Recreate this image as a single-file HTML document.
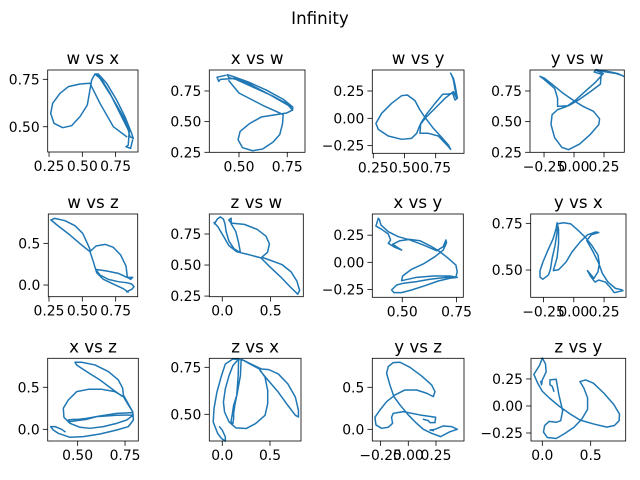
<!DOCTYPE html>
<html><head><meta charset="utf-8"><title>Infinity</title>
<style>
html,body{margin:0;padding:0;background:#fff;}
svg{display:block;font-family:"DejaVu Sans","Liberation Sans",sans-serif;}
</style></head>
<body>
<svg id="fig" width="640" height="480" viewBox="0 0 640 480" xmlns="http://www.w3.org/2000/svg">
<rect width="640" height="480" fill="#fff"/>
<text x="320" y="24" text-anchor="middle" font-size="16.7" fill="#000">Infinity</text>
</svg>
<script>
// pair (w,x)
const WX_w=[.8325,.7325,.6325,.5575,.4825,.395,.3325,.2775,.2625,.2875,.3525,.42,.4825,.5375,.57,.595,.62,.6825,.7575,.82,.87,.8825,.8575,.845,.7825,.7075,.6325,.6025,.6325,.72,.8075,.8525,.845,.8275,.8625,.8775];
const WX_x=[.4477,.5004,.6235,.7289,.7254,.7113,.6762,.6235,.5707,.518,.4952,.5057,.5532,.6147,.7465,.7781,.7781,.7289,.641,.5532,.4653,.4389,.4477,.4829,.5707,.6762,.7641,.7728,.7553,.6586,.5532,.4829,.4038,.395,.3862,.4301];
// pair (w,y)
const WY_w=[.870,.892,.905,.924,.905,.886,.852,.806,.745,.678,.630,.624,.691,.771,.852,.870,.852,.798,.731,.664,.624,.584,.523,.477,.397,.317,.271,.290,.370,.477,.557,.598,.624,.672,.745,.825,.892,.918,.892,.878];
const WY_y=[.412,.366,.305,.183,.168,.229,.223,.220,.137,.040,-.046,-.137,-.137,-.162,-.259,-.284,-.244,-.174,-.091,.009,.076,.162,.213,.207,.137,.046,-.046,-.101,-.162,-.192,-.183,-.137,-.061,.009,.091,.183,.244,.183,.351,.396];
// pair (w,z)
const WZ_w=[.8325,.87,.8875,.87,.8325,.77,.695,.6325,.6,.6825,.77,.8325,.8775,.8625,.8375,.8275,.7875,.7325,.67,.6025,.5625,.5375,.5025,.445,.37,.295,.265,.32,.4075,.495,.5575,.5825,.6075,.6575,.7325,.8075,.8425];
const WZ_z=[-.08,-.052,-.02,.012,.028,.04,.068,.12,.188,.168,.14,.092,.092,.068,.092,.228,.36,.452,.488,.468,.408,.5,.62,.712,.772,.8,.78,.708,.6,.48,.4,.28,.148,.068,.012,-.044,-.084];
// pair (x,y)
const XY_x=[.3896,.3788,.4049,.4356,.4463,.4356,.4663,.4969,.4555,.4893,.5353,.5813,.6304,.6733,.7117,.7469,.7531,.7469,.704,.6273,.566,.5046,.4739,.4509,.4617,.4969,.5429,.6043,.6656,.7193,.7531,.7193,.6426,.566,.4969,.5015,.5429,.5966,.6503,.6887,.704,.7009,.6887,.658,.5966,.5353,.4816,.4356,.4018,.3942];
const XY_y=[.405,.334,.304,.261,.206,.175,.138,.113,.166,.199,.211,.199,.150,.098,.037,-.025,-.086,-.138,-.138,-.156,-.178,-.193,-.209,-.255,-.279,-.279,-.255,-.215,-.172,-.147,-.138,-.126,-.126,-.138,-.169,-.126,-.064,-.015,.052,.113,.181,.206,.144,.107,.160,.206,.236,.282,.344,.396];
// pair (x,z)
const XZ_x=[.4331,.4155,.3803,.3574,.3715,.3979,.4595,.5299,.618,.706,.7676,.794,.7905,.7676,.7412,.6972,.6268,.5563,.4947,.4507,.4243,.4278,.4595,.5123,.5651,.6356,.706,.7588,.794,.706,.6004,.5475,.4947,.4595,.4507,.4771,.5035,.5475,.618,.706,.7905,.7852,.7412,.7377,.7148,.662,.5915,.5211,.4859,.4947,.5475,.618,.6884,.7324];
const XZ_z=[-.028,0,.032,.032,-.008,-.048,-.095,-.087,-.056,-.008,.032,.111,.210,.290,.389,.448,.476,.476,.448,.349,.250,.143,.071,.024,.012,.032,.071,.111,.171,.167,.151,.119,.103,.091,.111,.119,.119,.131,.159,.190,.198,.230,.409,.488,.587,.687,.766,.798,.798,.766,.687,.587,.468,.397];
// pair (y,z)
const YZ_y=[.160,.136,.181,.196,.241,.247,.105,-.045,-.136,-.151,-.142,-.181,-.241,-.292,-.301,-.256,-.196,-.120,-.030,.075,.166,.226,.241,.211,.120,.015,-.075,-.136,-.181,-.196,-.166,-.130,-.075,0,.075,.136,.211,.292,.377,.443,.392,.316,.241,.196,.226];
const YZ_z=[.111,.119,.103,.079,.079,.143,.171,.210,.190,.143,.071,.024,.012,.052,.143,.230,.329,.409,.468,.468,.429,.389,.448,.528,.635,.738,.798,.794,.746,.667,.528,.389,.290,.171,.071,0,-.048,-.087,-.028,0,.032,.040,0,-.008,-.016];

const T25=[-0.25,0,0.25], W3=[0.25,0.5,0.75], X2=[0.5,0.75], Z2=[0,0.5];

const panels=[
 {t:'w vs x',h:WX_w,v:WX_x,b:[47.7,70,138,152],xl:[.240,.918],yl:[.367,.799],xt:W3,yt:X2},
 {t:'x vs w',h:WX_x,v:WX_w,b:[209.3,70,305,152.3],xl:[.346,.842],yl:[.25,.921],xt:X2,yt:W3},
 {t:'w vs y',h:WY_w,v:WY_y,b:[372.3,70,464,153.3],xl:[.242,.977],yl:[-.320,.442],xt:W3,yt:T25},
 {t:'y vs w',h:WY_y,v:WY_w,b:[530,70,624.3,152.3],xl:[-.367,.419],yl:[.25,.921],xt:T25,yt:W3},
 {t:'w vs z',h:WZ_w,v:WZ_z,b:[48.3,214,137.7,296.7],xl:[.245,.915],yl:[-.14,.852],xt:W3,yt:Z2},
 {t:'z vs w',h:WZ_z,v:WZ_w,b:[209.3,214,303.3,296.7],xl:[-.134,.838],yl:[.245,.911],xt:Z2,yt:W3},
 {t:'x vs y',h:XY_x,v:XY_y,b:[372.3,214,463.3,297.3],xl:[.362,.781],yl:[-.322,.445],xt:X2,yt:T25},
 {t:'y vs x',h:XY_y,v:XY_x,b:[530.7,214,626,297.3],xl:[-.356,.431],yl:[.354,.80],xt:T25,yt:X2},
 {t:'x vs z',h:XZ_x,v:XZ_z,b:[47.7,358.3,138.3,441],xl:[.342,.820],yl:[-.139,.845],xt:X2,yt:Z2},
 {t:'z vs x',h:XZ_z,v:XZ_x,b:[209.3,358.3,301,441],xl:[-.136,.825],yl:[.358,.798],xt:Z2,yt:X2},
 {t:'y vs z',h:YZ_y,v:YZ_z,b:[372.3,358.3,464,441],xl:[-.325,.503],yl:[-.139,.845],xt:T25,yt:Z2},
 {t:'z vs y',h:YZ_z,v:YZ_y,b:[531,358.3,625.7,441],xl:[-.117,.862],yl:[-.324,.441],xt:Z2,yt:T25}
];

const NS='http://www.w3.org/2000/svg';
const fig=document.getElementById('fig');
function mk(tag,attrs,parent){const e=document.createElementNS(NS,tag);for(const k in attrs)e.setAttribute(k,attrs[k]);parent.appendChild(e);return e;}
function fmt(v,step){const d=Math.abs(step-0.25)<1e-9?2:1;let s=Math.abs(v).toFixed(d);return (v<-1e-9?'\u2212':'')+s;}

panels.forEach(function(p){
  const slug=p.t.replace(/ /g,'-');
  const [L,T,R,B]=p.b;
  const sx=v=>L+(v-p.xl[0])/(p.xl[1]-p.xl[0])*(R-L);
  const sy=v=>B-(v-p.yl[0])/(p.yl[1]-p.yl[0])*(B-T);
  const g=mk('g',{},fig);
  
  
  const pts=p.h.map((hv,i)=>sx(hv).toFixed(2)+','+sy(p.v[i]).toFixed(2)).join(' ');
  const line=mk('polyline',{points:pts,fill:'none',stroke:'#1f77b4','stroke-width':1.5,'stroke-linejoin':'round','stroke-linecap':'square'},g);
  
  
  const fr=mk('rect',{x:L,y:T,width:R-L,height:B-T,fill:'none',stroke:'#000','stroke-width':0.8},g);
  
  
  const xs=p.xt[1]-p.xt[0], ys=p.yt[1]-p.yt[0];
  p.xt.forEach(function(tv){
    const x=sx(tv);
    mk('line',{x1:x,x2:x,y1:B,y2:B+4.9,stroke:'#000','stroke-width':0.8},g);
    const tx=mk('text',{x:x,y:B+19,'text-anchor':'middle','font-size':13.9,fill:'#000'},g);
    tx.textContent=fmt(tv,xs);
    
    
  });
  p.yt.forEach(function(tv){
    const y=sy(tv);
    mk('line',{x1:L-4.9,x2:L,y1:y,y2:y,stroke:'#000','stroke-width':0.8},g);
    const ty=mk('text',{x:L-8,y:y+5,'text-anchor':'end','font-size':13.9,fill:'#000'},g);
    ty.textContent=fmt(tv,ys);
    
    
  });
  const tt=mk('text',{x:(L+R)/2,y:T-6,'text-anchor':'middle','font-size':16.7,fill:'#000'},g);
  tt.textContent=p.t;
  
  
});
</script>
</body></html>
